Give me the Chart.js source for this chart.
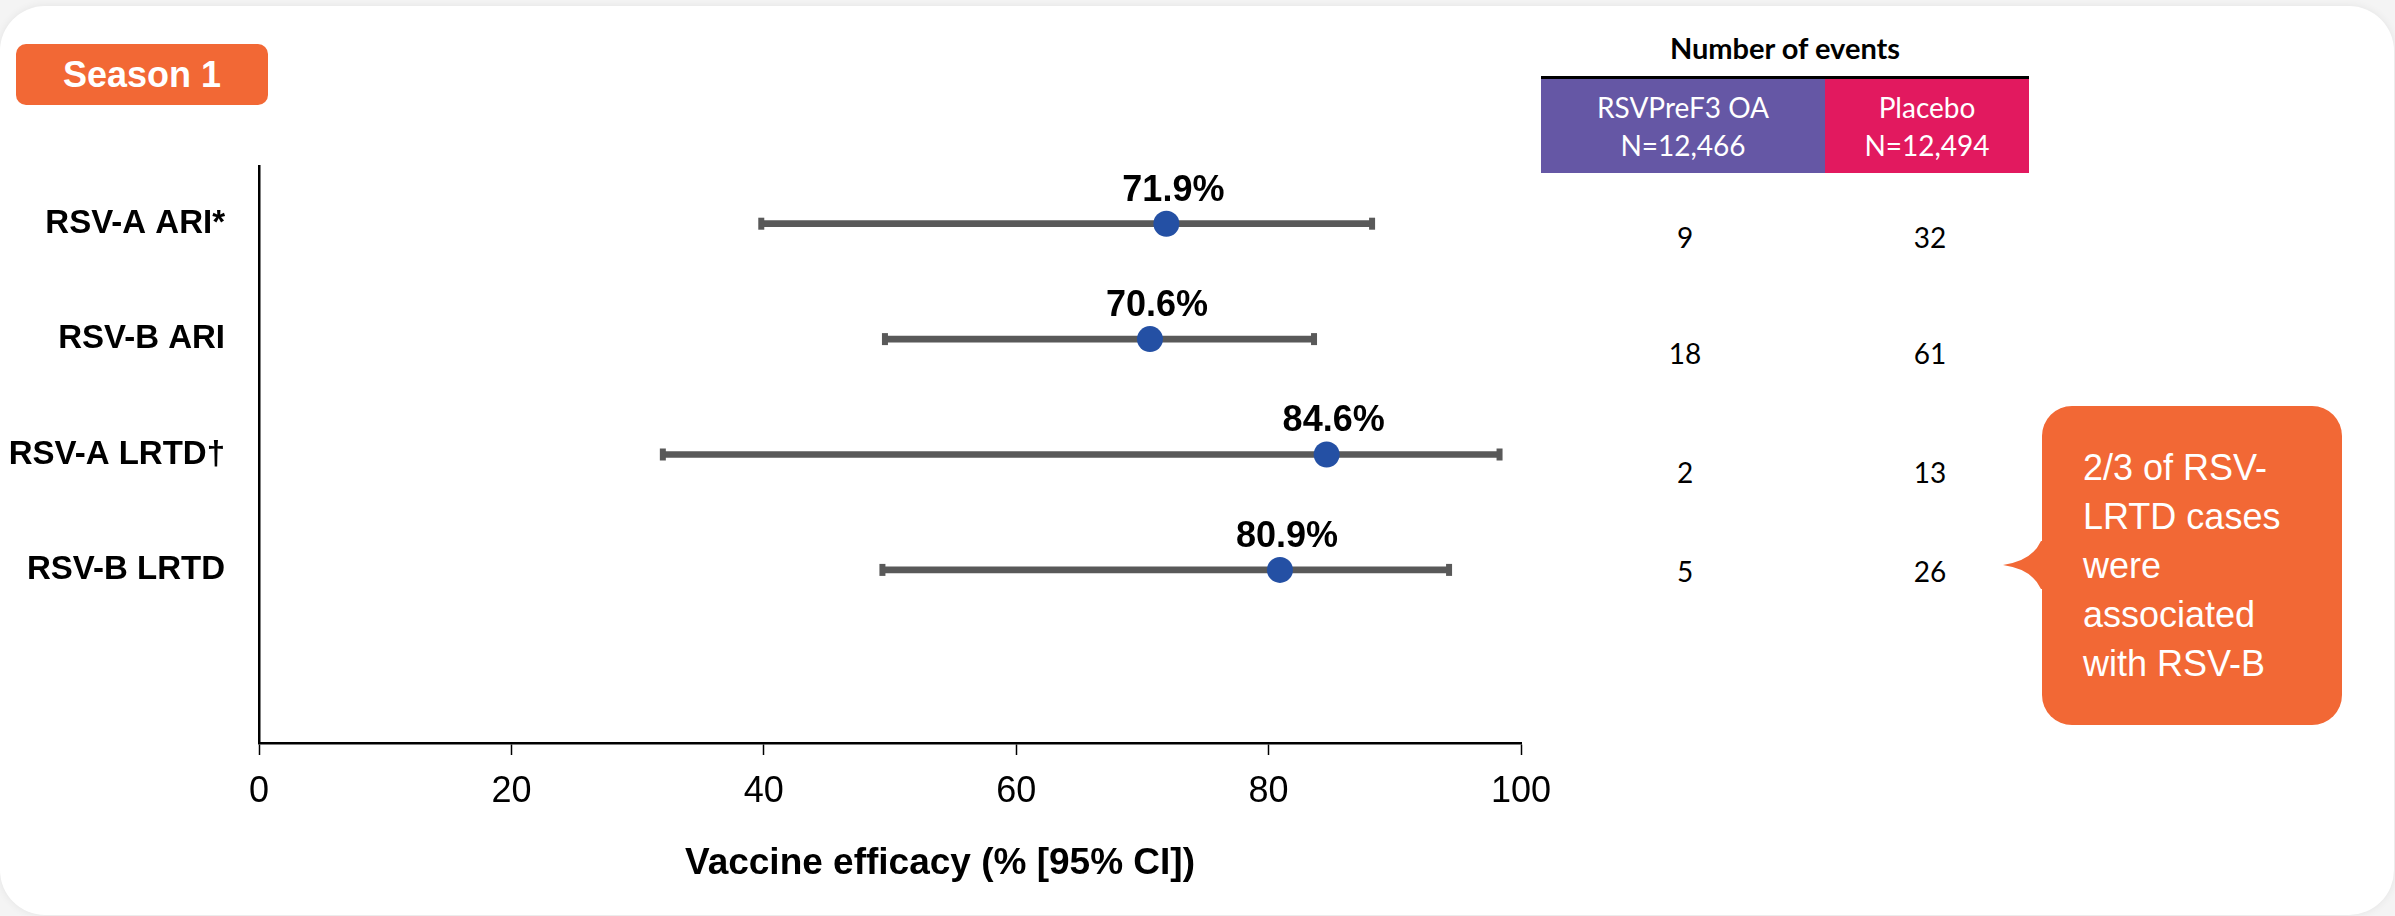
<!DOCTYPE html>
<html>
<head>
<meta charset="utf-8">
<script src="https://cdn.jsdelivr.net/npm/chart.js@4.4.1/dist/chart.umd.min.js"></script>
<style>
  html, body { margin: 0; padding: 0; }
  body { width: 2395px; height: 916px; background: #f4f4f4; position: relative; overflow: hidden; font-family: "Liberation Sans", Arial, sans-serif; }
  #card { position: absolute; left: 0; top: 6px; width: 2394px; height: 909px; background: #fff; border-radius: 45px; box-shadow: 0 0 8px rgba(0,0,0,0.07); }
  #chartWrap { position: absolute; left: 0; top: 0; width: 1560px; height: 916px; }
  #season { position: absolute; left: 16px; top: 44px; width: 252px; height: 61px; background: #f26835; border-radius: 10px; color: #fff; font-weight: bold; font-size: 36px; display: flex; align-items: center; justify-content: center; }
  #tblTitle { position: absolute; left: 1585px; width: 400px; top: 30px; text-align: center; font-family: Lato, "Open Sans", sans-serif; font-weight: bold; font-size: 29px; color: #000; line-height: 36px; }
  #tblLine { position: absolute; left: 1541px; top: 76px; width: 488px; height: 3px; background: #000; }
  .hcell { position: absolute; top: 79px; height: 94px; color: #fff; font-family: Lato, "Open Sans", sans-serif; font-size: 28px; line-height: 38px; text-align: center; display: flex; flex-direction: column; justify-content: center; }
  #hVac { left: 1541px; width: 284px; background: #6557a5; }
  #hPla { left: 1825px; width: 204px; background: #e2195f; }
  .num { position: absolute; width: 100px; margin-left: -50px; text-align: center; font-family: Lato, "Open Sans", sans-serif; font-size: 28px; line-height: 34px; color: #000; }
  #callout { position: absolute; left: 2042px; top: 406px; width: 300px; height: 319px; background: #f26835; border-radius: 30px; color: #fff; font-size: 36px; line-height: 49px; box-sizing: border-box; padding: 37px 0 0 41px; }
  #pointer { position: absolute; left: 0; top: 0; }
</style>
</head>
<body>
<div id="card"></div>
<div id="season">Season 1</div>
<div id="chartWrap"><canvas id="c" width="1560" height="916"></canvas></div>
<div id="tblTitle">Number of events</div>
<div id="tblLine"></div>
<div class="hcell" id="hVac"><div>RSVPreF3 OA</div><div>N=12,466</div></div>
<div class="hcell" id="hPla"><div>Placebo</div><div>N=12,494</div></div>
<div id="nums"></div>
<svg id="pointer" width="2395" height="916"><path d="M2046,541 L2041,541 Q2032,561 2003,565 Q2032,569 2041,589 L2046,589 Z" fill="#f26835"/></svg>
<div id="callout">2/3 of RSV-<br>LRTD cases<br>were<br>associated<br>with RSV-B</div>
<script>
// ---- data ----
const categories = ['RSV-A ARI*', 'RSV-B ARI', 'RSV-A LRTD\u2020', 'RSV-B LRTD'];
const efficacy = [71.9, 70.6, 84.6, 80.9];
const ciLow = [39.8, 49.6, 32.0, 49.4];
const ciHigh = [88.2, 83.6, 98.3, 94.3];
const xTicks = [0, 20, 40, 60, 80, 100];
const vaccineEvents = [9, 18, 2, 5];
const placeboEvents = [32, 61, 13, 26];
const eventRowY = [237, 353, 472, 571];

// event count table (HTML text)
const nums = document.getElementById('nums');
vaccineEvents.forEach((v, i) => {
  const a = document.createElement('div'); a.className = 'num'; a.textContent = v;
  a.style.left = '1685px'; a.style.top = (eventRowY[i] - 17) + 'px'; nums.appendChild(a);
  const b = document.createElement('div'); b.className = 'num'; b.textContent = placeboEvents[i];
  b.style.left = '1930px'; b.style.top = (eventRowY[i] - 17) + 'px'; nums.appendChild(b);
});

const FONT = "'Liberation Sans', Arial, sans-serif";
const GREY = '#595959';
const BLUE = '#2450a4';

const valueLabels = {
  id: 'valueLabels',
  afterDatasetsDraw(chart) {
    const meta = chart.getDatasetMeta(0);
    const ctx = chart.ctx;
    ctx.save();
    ctx.font = 'bold 36px ' + FONT;
    ctx.fillStyle = '#000';
    ctx.textAlign = 'center';
    ctx.textBaseline = 'middle';
    meta.data.forEach((pt, i) => {
      ctx.fillText(efficacy[i].toFixed(1) + '%', pt.x + 7, pt.y - 33);
    });
    ctx.restore();
  }
};

new Chart(document.getElementById('c'), {
  type: 'bar',
  data: {
    labels: [...categories, ''],
    datasets: [
      { type: 'line', label: 'VE', indexAxis: 'y', data: efficacy, showLine: false,
        pointRadius: 13, pointHoverRadius: 13, pointBackgroundColor: BLUE, pointBorderWidth: 0, borderWidth: 0, order: 0 },
      { type: 'line', label: 'low', indexAxis: 'y', data: ciLow, showLine: false,
        pointStyle: 'line', rotation: 90, pointRadius: 6, pointBorderWidth: 6, pointBorderColor: GREY, borderColor: GREY, order: 1 },
      { type: 'line', label: 'high', indexAxis: 'y', data: ciHigh, showLine: false,
        pointStyle: 'line', rotation: 90, pointRadius: 6, pointBorderWidth: 6, pointBorderColor: GREY, borderColor: GREY, order: 1 },
      { type: 'bar', label: 'CI', data: categories.map((c, i) => [ciLow[i], ciHigh[i]]),
        backgroundColor: GREY, barThickness: 6, borderWidth: 0, borderSkipped: false, order: 2 }
    ]
  },
  options: {
    indexAxis: 'y',
    responsive: false,
    animation: false,
    events: [],
    layout: { padding: { left: 0, top: 166, right: 39, bottom: 0 } },
    plugins: { legend: { display: false }, tooltip: { enabled: false } },
    scales: {
      x: {
        type: 'linear', min: 0, max: 100,
        afterBuildTicks: (s) => { s.ticks = xTicks.map(v => ({ value: v })); },
        afterFit: (s) => { s.height = 173; s.paddingLeft = 0; s.paddingRight = 0; },
        afterUpdate: (s) => {
          if (!s._shifted) {
            const orig = s.drawTitle.bind(s);
            s.drawTitle = function () { this.ctx.save(); this.ctx.translate(50, 0); orig(); this.ctx.restore(); };
            s._shifted = true;
          }
        },
        ticks: { color: '#000', font: { family: FONT, size: 36 }, padding: 15, maxRotation: 0 },
        grid: { display: true, drawOnChartArea: false, drawTicks: true, tickLength: 12, tickColor: '#000', tickWidth: 1.5 },
        border: { display: true, color: '#000', width: 2.5 },
        title: { display: true, text: 'Vaccine efficacy (% [95% CI])', color: '#000',
          font: { family: FONT, size: 37, weight: 'bold' }, padding: { top: 0, bottom: 30 } }
      },
      y: {
        type: 'category', offset: true,
        afterFit: (s) => { s.width = 259; s.paddingTop = 0; s.paddingBottom = 0; },
        ticks: { color: '#000', font: { family: FONT, size: 33, weight: 'bold' }, padding: 34 },
        grid: { display: false, drawTicks: false },
        border: { display: true, color: '#000', width: 2.5 }
      }
    }
  },
  plugins: [valueLabels]
});
</script>
</body>
</html>
